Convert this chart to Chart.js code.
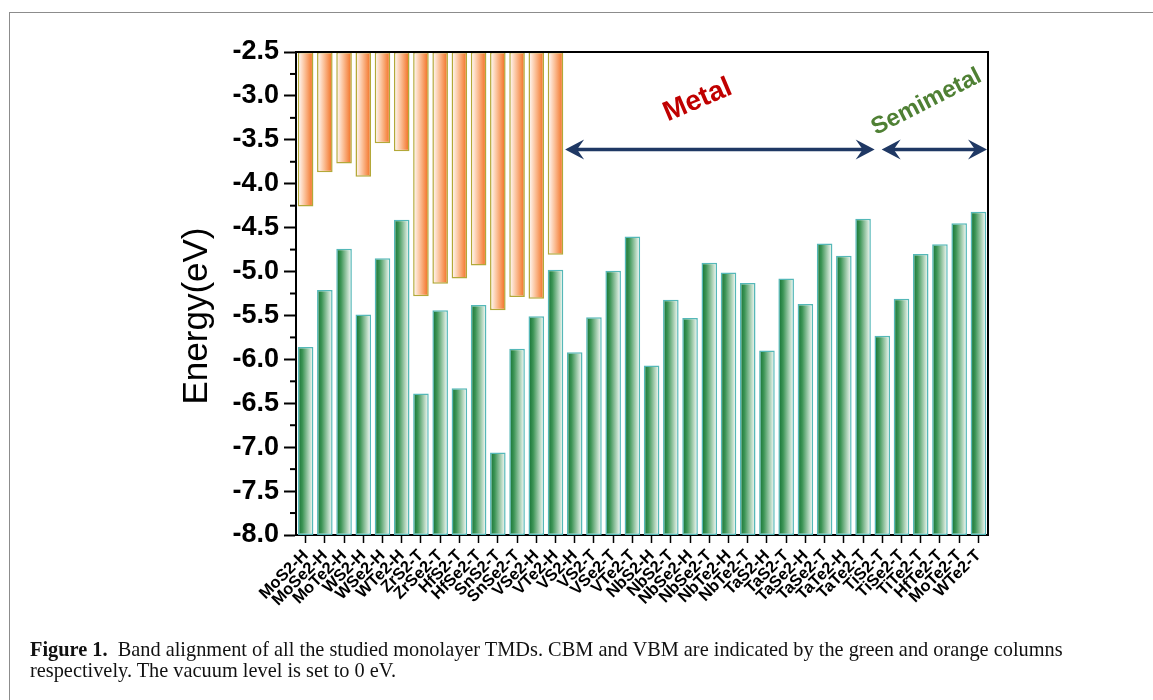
<!DOCTYPE html>
<html>
<head>
<meta charset="utf-8">
<script src="https://cdn.jsdelivr.net/npm/chart.js@4"></script>
<style>
  html,body{margin:0;padding:0;background:#fff;}
  body{width:1153px;height:700px;overflow:hidden;position:relative;}
  #frame{position:absolute;left:9px;top:12px;width:1300px;height:900px;border:1px solid #8c8c8c;box-sizing:border-box;}
  #wrap{position:absolute;left:0;top:0;width:1153px;height:700px;}
  #cap{position:absolute;left:30px;top:639px;font-family:'Liberation Serif','Times New Roman',serif;font-size:19.5px;line-height:21px;color:#111;white-space:nowrap;}
  #cap b{font-weight:bold;}
</style>
</head>
<body>
<div id="frame"></div>
<div id="wrap"><canvas id="c" width="1153" height="700"></canvas></div>
<div id="cap"><span id="l1"><b>Figure 1.</b>&nbsp; Band alignment of all the studied monolayer TMDs. CBM and VBM are indicated by the green and orange columns</span><br><span>respectively. The vacuum level is set to 0 eV.</span></div>
<script>
// ---- data ----
const materials = ['MoS2-H','MoSe2-H','MoTe2-H','WS2-H','WSe2-H','WTe2-H','ZrS2-T','ZrSe2-T','HfS2-T','HfSe2-T','SnS2-T','SnSe2-T','VSe2-H','VTe2-H',
  'VS2-H','VS2-T','VSe2-T','VTe2-T','NbS2-H','NbS2-T','NbSe2-H','NbSe2-T','NbTe2-H','NbTe2-T','TaS2-H','TaS2-T','TaSe2-H','TaSe2-T','TaTe2-H','TaTe2-T',
  'TiS2-T','TiSe2-T','TiTe2-T','HfTe2-T','MoTe2-T','WTe2-T'];
// green columns (top edge, eV)
const greenLevel = [-5.86,-5.21,-4.74,-5.49,-4.85,-4.41,-6.39,-5.44,-6.33,-5.38,-7.06,-5.88,-5.51,-4.98,
  -5.92,-5.52,-4.99,-4.60,-6.07,-5.32,-5.53,-4.90,-5.01,-5.13,-5.90,-5.08,-5.37,-4.68,-4.82,-4.40,
  -5.73,-5.31,-4.80,-4.69,-4.45,-4.32];
// orange columns (bottom edge, eV) — only semiconductors
const orangeLevel = [-4.26,-3.87,-3.77,-3.92,-3.54,-3.63,-5.28,-5.14,-5.08,-4.93,-5.44,-5.29,-5.31,-4.81];
const yMin = -8.0, yMax = -2.5, yStep = 0.5;
const metalRange = [13.5, 29.5];      // category boundaries
const semimetalRange = [29.5, 35.5];
const arrowLevel = -3.61;

const BAR_PCT = 0.81;

function barGradient(c, stops, fallback){
  const chart = c.chart;
  if (!chart.chartArea || !chart.scales.x) return fallback;
  const xs = chart.scales.x;
  const cx = xs.getPixelForValue(c.dataIndex);
  const w = (xs.width / materials.length) * BAR_PCT;
  const g = chart.ctx.createLinearGradient(cx - w/2, 0, cx + w/2, 0);
  stops.forEach(s => g.addColorStop(s[0], s[1]));
  return g;
}

const overlay = {
  id:'overlay',
  afterDraw(chart){
    const {ctx, chartArea:a, scales:{x, y}} = chart;
    ctx.save();
    // frame top & right
    ctx.strokeStyle = '#000'; ctx.lineWidth = 2;
    ctx.beginPath();
    ctx.moveTo(a.left, a.top); ctx.lineTo(a.right, a.top); ctx.lineTo(a.right, a.bottom);
    ctx.stroke();
    // minor ticks on y
    ctx.lineWidth = 2;
    for (let v = yMin + yStep/2; v < yMax; v += yStep){
      const py = y.getPixelForValue(v);
      ctx.beginPath(); ctx.moveTo(a.left - 6, py); ctx.lineTo(a.left, py); ctx.stroke();
    }
    // y title
    ctx.fillStyle = '#000';
    ctx.font = '35px "Liberation Sans", Arial, sans-serif';
    ctx.textAlign = 'center'; ctx.textBaseline = 'middle';
    ctx.translate(197, 316); ctx.rotate(-Math.PI/2);
    ctx.fillText('Energy(eV)', 0, 0);
    ctx.restore();

    // arrows
    ctx.save();
    const col = '#1f3864';
    function arrow(x1, x2, yy){
      ctx.strokeStyle = col; ctx.fillStyle = col; ctx.lineWidth = 3.5;
      ctx.beginPath(); ctx.moveTo(x1 + 8, yy); ctx.lineTo(x2 - 8, yy); ctx.stroke();
      const head = (tx, dir) => {
        ctx.beginPath();
        ctx.moveTo(tx, yy);
        ctx.lineTo(tx + dir*19, yy - 10);
        ctx.lineTo(tx + dir*12, yy);
        ctx.lineTo(tx + dir*19, yy + 10);
        ctx.closePath(); ctx.fill();
      };
      head(x1, 1); head(x2, -1);
    }
    const ay = y.getPixelForValue(arrowLevel);
    arrow(x.getPixelForValue(metalRange[0]), x.getPixelForValue(metalRange[1]) + 2, ay);
    arrow(x.getPixelForValue(semimetalRange[0]) + 9, x.getPixelForValue(semimetalRange[1]) - 1, ay);

    // labels
    function label(txt, xi, yv, deg, size, color){
      ctx.save();
      ctx.translate(x.getPixelForValue(xi), y.getPixelForValue(yv));
      ctx.rotate(deg*Math.PI/180);
      ctx.font = 'bold ' + size + 'px "Liberation Sans", Arial, sans-serif';
      ctx.fillStyle = color; ctx.textAlign = 'center'; ctx.textBaseline = 'middle';
      ctx.fillText(txt, 0, 0);
      ctx.restore();
    }
    label('Metal', 20.4, -3.05, -23, 28, '#c00000');
    label('Semimetal', 32.3, -3.07, -27, 24, '#4f8034');
    ctx.restore();
  }
};

new Chart(document.getElementById('c'), {
  type:'bar',
  data:{
    labels: materials,
    datasets:[
      {
        label:'green',
        data: greenLevel.map(v => [yMin, v]),
        backgroundColor: c => barGradient(c, [[0,'#116f30'],[0.3,'#3d9556'],[1,'#ffffff']], '#3d9556'),
        borderColor:'#55b8b8', borderWidth:1.5, borderSkipped:false,
        grouped:false, barPercentage:BAR_PCT, categoryPercentage:1
      },
      {
        label:'orange',
        data: orangeLevel.map(v => [v, yMax]),
        backgroundColor: c => barGradient(c, [[0,'#ffffff'],[0.45,'#fbbf96'],[1,'#f26a1b']], '#f59a60'),
        borderColor:'#b3a838', borderWidth:1.5, borderSkipped:false,
        grouped:false, barPercentage:BAR_PCT, categoryPercentage:1
      }
    ]
  },
  options:{
    responsive:false, animation:false,
    layout:{padding:{left:0, top:52, right:165, bottom:65}},
    plugins:{legend:{display:false}, tooltip:{enabled:false}},
    scales:{
      x:{
        grid:{display:true, offset:false, drawOnChartArea:false, drawTicks:true, tickLength:8, tickWidth:1.5, tickColor:'#000'},
        border:{display:true, color:'#000', width:2},
        ticks:{autoSkip:false, maxRotation:45, minRotation:45, color:'#000', padding:3,
               font:{family:'"Liberation Sans", Arial, sans-serif', size:16.5, weight:'bold'}},
        afterFit(s){ s.height = 100; }
      },
      y:{
        min:yMin, max:yMax,
        ticks:{stepSize:yStep, callback:v => Number(v).toFixed(1), color:'#000', padding:5,
               font:{family:'"Liberation Sans", Arial, sans-serif', size:27, weight:'bold'}},
        grid:{drawOnChartArea:false, tickLength:12, tickWidth:2, tickColor:'#000'},
        border:{color:'#000', width:2},
        afterFit(s){ s.width = 296; }
      }
    }
  },
  plugins:[overlay]
});

// fit caption line width to reference
(function(){
  const cap = document.getElementById('cap'), l1 = document.getElementById('l1');
  const w = l1.getBoundingClientRect().width;
  if (w > 0){ const fs = 19.5 * 1033 / w; cap.style.fontSize = fs.toFixed(2) + 'px'; }
})();
</script>
</body>
</html>
